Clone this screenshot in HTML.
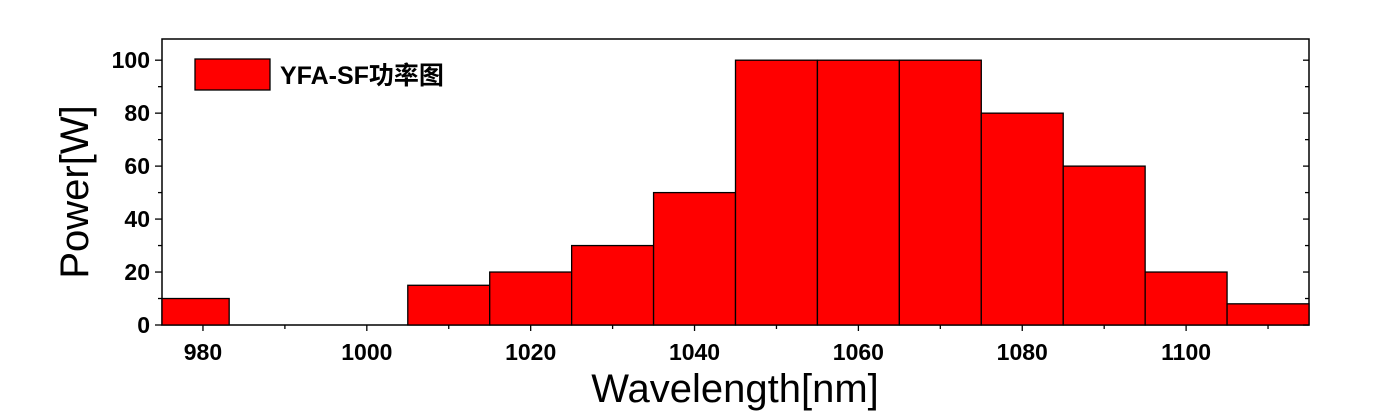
<!DOCTYPE html>
<html><head><meta charset="utf-8"><style>
body{margin:0;background:#fff}
svg{display:block;font-family:"Liberation Sans","Noto Sans CJK SC",sans-serif}
</style></head><body>
<svg id="c" width="1386" height="416"></svg>
<script>
const binStart=[975,1005,1015,1025,1035,1045,1055,1065,1075,1085,1095,1105];
const binEnd=[983.2,1015,1025,1035,1045,1055,1065,1075,1085,1095,1105,1115];
const powerValues=[10,15,20,30,50,100,100,100,80,60,20,8];
const xTickLabels=[980,1000,1020,1040,1060,1080,1100];
const yTickLabels=[0,20,40,60,80,100];
const X0=162,X1=1309,Y0=325,Y1=39;
const xMin=975,xMax=1115,yMin=0,yMax=108;
const xs=v=>X0+(v-xMin)/(xMax-xMin)*(X1-X0);
const ys=v=>Y0-(v-yMin)/(yMax-yMin)*(Y0-Y1);
const svg=document.getElementById('c');
const NS='http://www.w3.org/2000/svg';
function mk(t,a,p){const e=document.createElementNS(NS,t);for(const k in a)e.setAttribute(k,a[k]);(p||svg).appendChild(e);return e;}
const frame=mk('rect',{x:X0,y:Y1,width:X1-X0,height:Y0-Y1,fill:'none',stroke:'#000','stroke-width':1.5});


for(let i=0;i<powerValues.length;i++){
  const r=mk('rect',{x:xs(binStart[i]),y:ys(powerValues[i]),width:xs(binEnd[i])-xs(binStart[i]),height:Y0-ys(powerValues[i]),fill:'#ff0000',stroke:'#000','stroke-width':1.3});
  
  
}
for(let v=980;v<=1110;v+=10){
  const major=(v%20===0);
  mk('line',{x1:xs(v),x2:xs(v),y1:Y0,y2:Y0+(major?6:4),stroke:'#000','stroke-width':1.3});
}
xTickLabels.forEach(v=>{
  const t=mk('text',{x:xs(v),y:Y0+35,'text-anchor':'middle','font-size':23,'font-weight':'bold'});
  t.textContent=v;
  
  
});
for(let v=0;v<=100;v+=10){
  const major=(v%20===0);
  mk('line',{x1:X0,x2:X0-(major?7:4),y1:ys(v),y2:ys(v),stroke:'#000','stroke-width':1.3});
  mk('line',{x1:X1,x2:X1-(major?6:4),y1:ys(v),y2:ys(v),stroke:'#000','stroke-width':1.3});
}
yTickLabels.forEach(v=>{
  const t=mk('text',{x:X0-12,y:ys(v)+8,'text-anchor':'end','font-size':23,'font-weight':'bold'});
  t.textContent=v;
  
  
});
const xt=mk('text',{x:735,y:402,'text-anchor':'middle','font-size':40});
xt.textContent='Wavelength[nm]';


const yt=mk('text',{x:0,y:0,'text-anchor':'middle','font-size':40,transform:'translate(88,192) rotate(-90)'});
yt.textContent='Power[W]';


const lg=mk('g',{});


mk('rect',{x:195,y:59,width:75,height:31,fill:'#ff0000',stroke:'#000','stroke-width':1.3},lg);
const lt=mk('text',{x:280,y:84,'font-size':25,'font-weight':'bold'},lg);
lt.textContent='YFA-SF功率图';


</script>
</body></html>
